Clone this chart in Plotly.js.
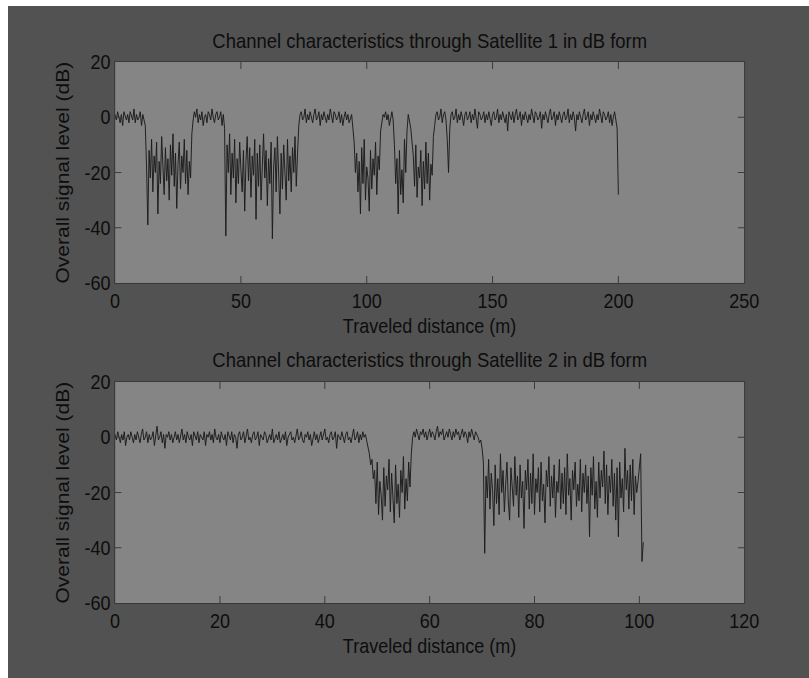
<!DOCTYPE html>
<html>
<head>
<meta charset="utf-8">
<script src="https://cdn.plot.ly/plotly-3.0.1.min.js"></script>
<style>
  html, body { margin: 0; padding: 0; background: #ffffff; overflow: hidden; width: 809px; height: 678px; }
  #wrap { position: absolute; left: 8px; top: 6px; width: 890px; height: 672px; transform: scaleX(0.9); transform-origin: 0 0; }
</style>
</head>
<body>
<div id="wrap"><div id="chart"></div></div>
<script>
// ---------- data ----------
const sat1Title = 'Channel characteristics through Satellite 1 in dB form';
const sat2Title = 'Channel characteristics through Satellite 2 in dB form';
const xTitle = 'Traveled distance (m)';
const yTitle = 'Overall signal level (dB)';

const sat1Step = 0.5;   // metres between samples (satellite 1)
const sat2Step = 0.25;  // metres between samples (satellite 2)

const sat1Level = [
  // 0 - 11.5
  1,-1,2,0,-2,1,-3,2,0,-1,1,-2,2,0,-1,3,-2,1,-1,0,2,-3,1,-1,
  // 12 - 30.5
  -3,-18,-39,-12,-22,-8,-27,-14,-20,-9,-35,-16,-24,-7,-19,-28,-11,-23,-15,-30,
  -10,-21,-6,-25,-13,-33,-17,-9,-26,-14,-20,-8,-24,-12,-28,-16,-22,-6,
  // 31 - 43.5
  -1,2,0,3,-2,1,-1,2,-3,0,1,-2,2,1,-1,3,0,-2,1,2,-1,0,2,-3,1,-4,
  // 44 - 72.5
  -43,-10,-20,-6,-28,-13,-22,-8,-31,-15,-24,-9,-19,-27,-12,-34,-16,-7,-23,-11,
  -29,-14,-21,-8,-37,-13,-25,-10,-30,-17,-6,-22,-12,-32,-15,-24,-9,-44,-18,-11,
  -27,-7,-21,-35,-13,-26,-10,-19,-30,-8,-23,-14,-27,-11,-20,-7,-25,-13,
  // 73 - 94.5
  -3,1,2,-1,0,3,-2,1,-1,2,0,-2,1,3,-1,0,2,-3,1,-1,2,0,-2,1,-1,3,0,-2,2,1,
  -1,0,2,-2,1,-3,0,2,-1,1,-2,0,1,-4,
  // 95 - 105.5
  -9,-20,-13,-27,-16,-35,-11,-24,-8,-30,-18,-22,-34,-12,-26,-15,-21,-9,-28,-14,-19,-5,
  // 106 - 110.5
  -2,1,0,2,-1,1,-3,0,2,-1,
  // 111 - 115.5
  -10,-24,-15,-35,-12,-28,-19,-31,-8,-20,
  // 116 - 118
  -5,1,-1,-4,-9,
  // 118.5 - 126.5
  -14,-25,-10,-29,-18,-22,-12,-32,-16,-26,-9,-24,-13,-30,-17,-21,-7,
  // 127 - 199.5
  -3,1,2,-1,0,3,-2,1,2,-1,
  -8,-20,-4,1,2,-1,0,3,-2,1,
  -1,2,0,-3,1,2,-1,0,2,-2,
  1,-1,3,0,-4,2,1,-1,0,2,
  -2,1,-1,2,0,-3,1,2,-1,0,
  3,-2,1,-1,2,0,-2,1,-5,2,
  0,-1,2,-2,1,3,-1,0,2,-3,
  1,-1,2,0,-2,1,-1,3,0,-2,
  2,1,-1,0,2,-4,1,-1,2,0,
  -2,1,3,-1,0,2,-3,1,-1,2,
  0,-2,1,2,-1,0,3,-2,1,-1,
  2,0,-5,1,-1,2,0,-2,1,3,
  -1,0,2,-3,1,-1,2,0,-2,1,
  -1,3,0,-2,2,1,-1,0,2,-2,
  1,-3,0,2,-1,-4,
  // 200
  -28
];

const sat2Level = [
  // 0 - 47.75
  1,-1,2,0,-2,1,-1,2,-3,0,1,-1,2,0,-2,1,
  -1,2,0,-2,1,3,-1,0,2,-2,1,-1,0,2,-3,1,
  4,-1,0,2,-2,1,-4,1,0,2,-1,1,-2,0,2,-1,
  1,-2,0,3,-1,1,-2,2,0,-1,1,-3,2,0,-1,2,
  -2,1,0,-1,2,-3,1,0,2,-1,1,-2,3,0,-1,1,
  -2,2,0,-1,1,-3,2,0,-1,2,-2,1,0,-4,1,2,
  -1,0,2,-2,1,3,-1,0,-2,1,2,-1,0,2,-3,1,
  0,-1,2,1,-2,0,1,-1,3,-2,0,1,-1,2,-2,0,
  1,-1,2,-3,0,1,2,-1,0,-2,1,3,-1,0,2,-1,
  -2,1,0,2,-1,1,-3,0,2,-1,1,-2,0,2,-1,1,
  3,-1,0,-2,1,2,-1,0,2,-4,1,0,-1,2,0,-2,
  1,2,-1,0,-2,1,3,-1,0,2,-2,1,-1,2,0,1,
  // 48 - 49.25
  -1,-3,-6,-10,-8,-15,
  // 49.5 - 56.25
  -12,-24,-9,-28,-16,-21,-30,-11,-25,-14,-19,-8,-27,-13,-22,-31,-10,-24,-17,-29,
  -12,-20,-7,-26,-15,-23,-9,-18,
  // 56.5 - 56.75
  -6,0,
  // 57 - 69.75
  2,0,3,1,-1,2,1,3,0,2,-1,1,3,0,2,1,-1,2,4,0,
  2,1,3,-1,1,2,0,3,1,-1,2,0,3,1,2,-1,1,3,0,2,
  1,-2,2,0,3,1,-1,2,1,0,-2,-1,
  // 70 - 70.75
  -4,-9,-42,-14,
  // 71 - 99.75
  -22,-8,-26,-13,-19,-32,-10,-24,-15,-28,
  -6,-20,-12,-27,-17,-9,-23,-30,-11,-18,
  -25,-7,-21,-14,-29,-10,-22,-16,-33,-12,
  -19,-8,-26,-13,-24,-6,-28,-15,-20,-11,
  -27,-9,-23,-17,-31,-12,-18,-7,-25,-14,
  -22,-10,-29,-16,-20,-8,-26,-13,-24,-11,
  -28,-6,-21,-15,-30,-12,-19,-9,-25,-17,
  -23,-8,-27,-13,-20,-10,-24,-14,-36,-11,
  -21,-7,-26,-16,-29,-9,-22,-12,-18,-5,
  -24,-10,-28,-14,-20,-8,-25,-13,-30,-11,
  -36,-9,-22,-15,-27,-4,-19,-12,-26,-10,
  -23,-8,-28,-14,-20,-16,
  // 100 - 100.75
  -12,-6,-45,-38
];

const sat1XTicks = [0, 50, 100, 150, 200, 250];
const sat2XTicks = [0, 20, 40, 60, 80, 100, 120];
const yTickVals = [-60, -40, -20, 0, 20];
const yTickText = ['-60', '-40', '-20', '0', '20'];

// ---------- drawing ----------
const sat1X = sat1Level.map((_, i) => i * sat1Step);
const sat2X = sat2Level.map((_, i) => i * sat2Step);

const lineStyle = { color: '#1b1b1b', width: 1 };
const traces = [
  { type: 'scatter', mode: 'lines', x: sat1X, y: sat1Level, xaxis: 'x', yaxis: 'y', line: lineStyle, hoverinfo: 'skip' },
  { type: 'scatter', mode: 'lines', x: sat2X, y: sat2Level, xaxis: 'x2', yaxis: 'y2', line: lineStyle, hoverinfo: 'skip' }
];

const axisCommon = {
  showgrid: false, zeroline: false, showline: true,
  linecolor: '#383838', linewidth: 1, mirror: 'ticks',
  ticks: 'inside', ticklen: 7, tickwidth: 1, tickcolor: '#383838',
  tickfont: { size: 20, color: '#0d0d0d' }, autorange: false, fixedrange: true
};

const topDom = [0.5915, 1];
const botDom = [0, 0.4085];
const txtColor = '#0d0d0d';

const layout = {
  width: 890, height: 672,
  paper_bgcolor: '#525252', plot_bgcolor: '#858585',
  margin: { l: 119, r: 72, t: 56, b: 75 },
  font: { family: 'Liberation Sans, Arial, sans-serif', size: 20, color: txtColor },
  showlegend: false,
  xaxis: Object.assign({}, axisCommon, { anchor: 'y', domain: [0, 1], range: [0, 250], tickvals: sat1XTicks, ticktext: sat1XTicks.map(String) }),
  yaxis: Object.assign({}, axisCommon, { anchor: 'x', domain: topDom, range: [-60, 20], tickvals: yTickVals, ticktext: yTickText }),
  xaxis2: Object.assign({}, axisCommon, { anchor: 'y2', domain: [0, 1], range: [0, 120], tickvals: sat2XTicks, ticktext: sat2XTicks.map(String) }),
  yaxis2: Object.assign({}, axisCommon, { anchor: 'x2', domain: botDom, range: [-60, 20], tickvals: yTickVals, ticktext: yTickText }),
  annotations: [
    { text: sat1Title, xref: 'paper', yref: 'paper', x: 0.5, y: topDom[1], yshift: 22, xanchor: 'center', yanchor: 'middle', showarrow: false, font: { size: 20.5, color: txtColor } },
    { text: sat2Title, xref: 'paper', yref: 'paper', x: 0.5, y: botDom[1], yshift: 23, xanchor: 'center', yanchor: 'middle', showarrow: false, font: { size: 20.5, color: txtColor } },
    { text: xTitle, xref: 'paper', yref: 'paper', x: 0.5, y: topDom[0], yshift: -43, xanchor: 'center', yanchor: 'middle', showarrow: false, font: { size: 20, color: txtColor } },
    { text: xTitle, xref: 'paper', yref: 'paper', x: 0.5, y: botDom[0], yshift: -43, xanchor: 'center', yanchor: 'middle', showarrow: false, font: { size: 20, color: txtColor } },
    { text: yTitle, xref: 'paper', yref: 'paper', x: 0, xshift: -59, y: (topDom[0] + topDom[1]) / 2, xanchor: 'center', yanchor: 'middle', textangle: -90, showarrow: false, font: { size: 21, color: txtColor } },
    { text: yTitle, xref: 'paper', yref: 'paper', x: 0, xshift: -59, y: (botDom[0] + botDom[1]) / 2, xanchor: 'center', yanchor: 'middle', textangle: -90, showarrow: false, font: { size: 21, color: txtColor } }
  ]
};

Plotly.newPlot('chart', traces, layout, { staticPlot: true, displayModeBar: false });
</script>
</body>
</html>
